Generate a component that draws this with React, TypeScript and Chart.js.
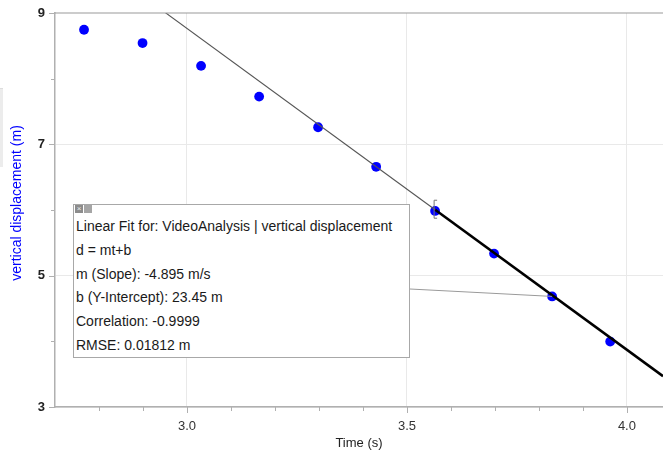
import React, { useEffect, useRef } from "react";
import { Chart, registerables } from "chart.js";

Chart.register(...registerables);

const times = [2.766, 2.899, 3.032, 3.164, 3.298, 3.430, 3.564, 3.698, 3.830, 3.962];
const displacement = [8.745, 8.542, 8.195, 7.727, 7.26, 6.658, 5.986, 5.336, 4.684, 3.997];

const slope = -4.895;
const intercept = 23.45;
const fitStart = 3.564;
const calloutIndex = 8;

const xMin = 2.7;
const xMax = 4.082;
const yMin = 3;
const yMax = 9;

const yTitle = "vertical displacement (m)";
const xTitle = "Time (s)";

const fitLines = [
  "Linear Fit for: VideoAnalysis | vertical displacement",
  "d = mt+b",
  "m (Slope): -4.895 m/s",
  "b (Y-Intercept): 23.45 m",
  "Correlation: -0.9999",
  "RMSE: 0.01812 m",
];

const BOX = { left: 73, top: 204, width: 337, height: 154 };
const FONT = "'Liberation Sans', Arial, Helvetica, sans-serif";

const near = (v: number, step: number) => Math.abs(v / step - Math.round(v / step)) < 1e-6;

const decorPlugin = {
  id: "decor",
  afterDraw(chart: any) {
    const ctx = chart.ctx;
    const xs = chart.scales.x;
    const ys = chart.scales.y;
    const area = chart.chartArea;
    ctx.save();
    // top border
    ctx.strokeStyle = "#9a9a9a";
    ctx.lineWidth = 1.2;
    ctx.beginPath();
    ctx.moveTo(area.left, area.top);
    ctx.lineTo(area.right, area.top);
    ctx.stroke();
    // axis ticks
    ctx.strokeStyle = "#b0b0b0";
    ctx.lineWidth = 1;
    for (let i = 0; i <= 60; i++) {
      const v = yMin + i * 0.1;
      if (!near(v, 1) || v > yMax + 1e-9) continue;
      const py = Math.round(ys.getPixelForValue(v)) + 0.5;
      const len = near(v - 1, 2) ? 6 : 4;
      ctx.beginPath();
      ctx.moveTo(area.left - len, py);
      ctx.lineTo(area.left, py);
      ctx.stroke();
    }
    for (let i = 1; i <= 14; i++) {
      const v = xMin + i * 0.1;
      if (v > xMax) break;
      const px = Math.round(xs.getPixelForValue(v)) + 0.5;
      const len = near(v, 0.5) ? 6 : 4;
      ctx.beginPath();
      ctx.moveTo(px, area.bottom);
      ctx.lineTo(px, area.bottom + len);
      ctx.stroke();
    }
    // y axis title
    ctx.save();
    ctx.translate(17, (area.top + area.bottom) / 2 - 7);
    ctx.rotate(-Math.PI / 2);
    ctx.fillStyle = "#0000ff";
    ctx.font = `14px ${FONT}`;
    ctx.textAlign = "center";
    ctx.textBaseline = "middle";
    ctx.fillText(yTitle, 0, 0);
    ctx.restore();
    // bracket at fit start
    const bx = xs.getPixelForValue(fitStart) - 1;
    const by = ys.getPixelForValue(intercept + slope * fitStart);
    ctx.strokeStyle = "#777";
    ctx.lineWidth = 1;
    ctx.beginPath();
    ctx.moveTo(bx + 3, by - 9.5);
    ctx.lineTo(bx, by - 9.5);
    ctx.lineTo(bx, by + 8.5);
    ctx.lineTo(bx + 3, by + 8.5);
    ctx.stroke();
    // callout connector
    const cx = xs.getPixelForValue(times[calloutIndex]);
    const cy = ys.getPixelForValue(displacement[calloutIndex]);
    ctx.strokeStyle = "#9a9a9a";
    ctx.beginPath();
    ctx.moveTo(BOX.left + BOX.width, 289);
    ctx.lineTo(cx, cy);
    ctx.stroke();
    ctx.restore();
  },
};

export default function App() {
  const ref = useRef<HTMLCanvasElement | null>(null);
  useEffect(() => {
    document.body.style.margin = "0";
    const canvas = ref.current!;
    const fitX = [xMin, fitStart];
    const thickX = [fitStart, xMax];
    const chart = new Chart(canvas, {
      type: "scatter",
      data: {
        datasets: [
          {
            type: "line",
            data: fitX.map((t) => ({ x: t, y: intercept + slope * t })),
            borderColor: "#555",
            borderWidth: 1.1,
            pointRadius: 0,
            fill: false,
          } as any,
          {
            type: "line",
            data: thickX.map((t) => ({ x: t, y: intercept + slope * t })),
            borderColor: "#000",
            borderWidth: 2.6,
            pointRadius: 0,
            fill: false,
          } as any,
          {
            data: times.map((t, i) => ({ x: t, y: displacement[i] })),
            backgroundColor: "#0000ff",
            borderColor: "#0000ff",
            pointRadius: 4.9,
            borderWidth: 0,
          },
        ],
      },
      options: {
        responsive: false,
        animation: false,
        layout: { autoPadding: false, padding: { top: 13, right: 0, left: 0, bottom: 0 } },
        plugins: { legend: { display: false }, tooltip: { enabled: false } },
        scales: {
          x: {
            type: "linear",
            min: xMin,
            max: xMax,
            afterFit: (s: any) => {
              s.height = 47;
              s.paddingLeft = 0;
              s.paddingRight = 0;
            },
            afterBuildTicks: (s: any) => {
              s.ticks = [3.0, 3.5, 4.0].map((v) => ({ value: v }));
            },
            ticks: {
              padding: 12,
              color: "#333",
              font: { family: FONT, size: 13 },
              callback: (v: any) => Number(v).toFixed(1),
            },
            grid: { color: "#e9e9e9", drawTicks: false, lineWidth: 1 },
            border: { color: "#b0b0b0", width: 1.5 },
            title: {
              display: true,
              text: xTitle,
              color: "#222",
              font: { family: FONT, size: 13 },
              padding: { top: 0, bottom: 3 },
            },
          },
          y: {
            type: "linear",
            min: yMin,
            max: yMax,
            afterFit: (s: any) => {
              s.width = 55;
              s.paddingTop = 0;
              s.paddingBottom = 0;
            },
            afterBuildTicks: (s: any) => {
              s.ticks = [3, 5, 7, 9].map((v) => ({ value: v }));
            },
            ticks: {
              padding: 10,
              color: "#222",
              font: { family: FONT, size: 13, weight: "bold" },
            },
            grid: {
              color: (c: any) => (c.tick && c.tick.value === 9 ? "transparent" : "#e9e9e9"),
              drawTicks: false,
              lineWidth: 1,
            },
            border: { color: "#b0b0b0", width: 1.5 },
          },
        },
      },
      plugins: [decorPlugin],
    });
    return () => chart.destroy();
  }, []);

  return (
    <div style={{ position: "absolute", left: 0, top: 0, width: 663, height: 454, background: "#fff", overflow: "hidden" }}>
      <canvas ref={ref} width={663} height={454} style={{ display: "block" }} />
      <div
        style={{
          position: "absolute",
          left: 0,
          top: 88,
          width: 3,
          height: 78,
          background: "#ececec",
          borderTop: "1px solid #ddd",
        }}
      />
      <div
        style={{
          position: "absolute",
          left: BOX.left,
          top: BOX.top,
          width: BOX.width - 2,
          height: BOX.height - 2,
          border: "1px solid #a8a8a8",
          background: "#fff",
          boxSizing: "content-box",
          fontFamily: FONT,
          fontSize: 14,
          color: "#1a1a1a",
          paddingTop: 0,
        }}
      >
        <div style={{ position: "absolute", left: 1, top: 0, display: "flex", gap: 1 }}>
          <span
            style={{
              width: 8,
              height: 8,
              background: "#8c8c8c",
              color: "#eee",
              fontSize: 8,
              lineHeight: "8px",
              textAlign: "center",
              display: "block",
            }}
          >
            ×
          </span>
          <span style={{ width: 8, height: 8, background: "#a5a5a5", display: "block" }} />
        </div>
        <div style={{ paddingTop: 10, paddingLeft: 2 }}>
          {fitLines.map((l, i) => (
            <div key={i} style={{ height: 23.8, lineHeight: "23.8px", whiteSpace: "nowrap" }}>
              {l}
            </div>
          ))}
        </div>
      </div>
    </div>
  );
}
